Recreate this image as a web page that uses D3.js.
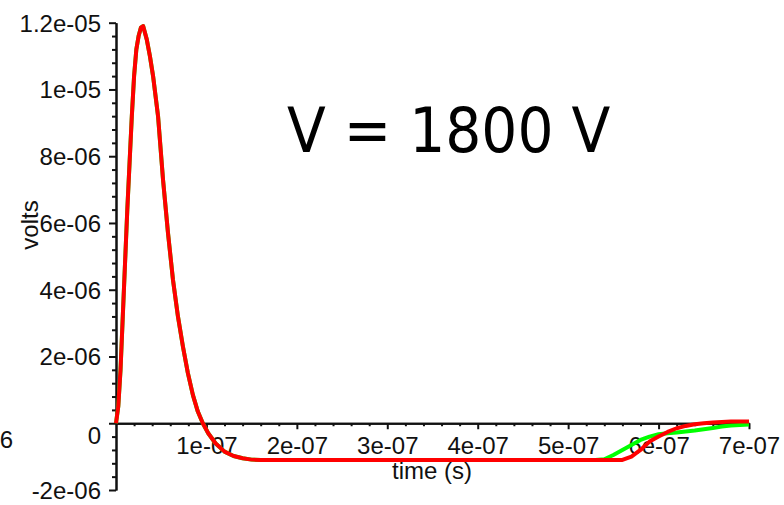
<!DOCTYPE html>
<html>
<head>
<meta charset="utf-8">
<script src="https://cdn.jsdelivr.net/npm/d3@7/dist/d3.min.js"></script>
<style>
  html, body { margin: 0; padding: 0; background: #fff; }
  svg { display: block; }
  .tick-label { font-family: "Liberation Sans", Arial, sans-serif; font-size: 24px; fill: #111; }
</style>
</head>
<body>
<svg id="chart" width="784" height="505"></svg>
<script>
// Sample times (seconds)
const timeSec = [
  0, 0.25e-8, 0.5e-8, 0.75e-8, 1.0e-8, 1.25e-8, 1.5e-8, 1.75e-8, 2.0e-8, 2.25e-8,
  2.5e-8, 2.75e-8, 3.0e-8, 3.4e-8, 3.75e-8, 4.1e-8, 4.65e-8, 5.2e-8, 5.75e-8, 6.3e-8,
  6.85e-8, 7.4e-8, 7.95e-8, 8.5e-8, 9.05e-8, 9.6e-8, 10.2e-8, 11e-8, 12e-8, 13e-8,
  14e-8, 15e-8, 16e-8, 20e-8, 30e-8, 40e-8, 50e-8, 53e-8, 54e-8, 55e-8,
  56e-8, 57e-8, 58e-8, 59e-8, 60e-8, 61e-8, 62e-8, 63e-8, 64e-8, 65e-8,
  66e-8, 67e-8, 68e-8, 69e-8, 70e-8
];

// Signal voltages (volts), red trace
const redVolts = [
  0, 0.5e-6, 1.6e-6, 3.2e-6, 4.8e-6, 6.4e-6, 7.8e-6, 9.2e-6, 10.4e-6, 11.2e-6,
  11.6e-6, 11.85e-6, 11.9e-6, 11.5e-6, 11.0e-6, 10.4e-6, 9.2e-6, 7.3e-6, 5.7e-6, 4.3e-6,
  3.2e-6, 2.3e-6, 1.5e-6, 0.85e-6, 0.35e-6, 0.0, -0.3e-6, -0.6e-6, -0.85e-6, -0.98e-6,
  -1.05e-6, -1.09e-6, -1.1e-6, -1.1e-6, -1.1e-6, -1.1e-6, -1.1e-6, -1.1e-6, -1.1e-6, -1.1e-6,
  -1.1e-6, -1.0e-6, -0.8e-6, -0.55e-6, -0.4e-6, -0.26e-6, -0.15e-6, -0.08e-6, -0.03e-6, 0.0,
  0.02e-6, 0.04e-6, 0.05e-6, 0.05e-6, 0.05e-6
];

// Signal voltages (volts), green trace
const greenVolts = [
  0, 0.5e-6, 1.6e-6, 3.2e-6, 4.8e-6, 6.4e-6, 7.8e-6, 9.2e-6, 10.4e-6, 11.2e-6,
  11.6e-6, 11.85e-6, 11.9e-6, 11.5e-6, 11.0e-6, 10.4e-6, 9.2e-6, 7.3e-6, 5.7e-6, 4.3e-6,
  3.2e-6, 2.3e-6, 1.5e-6, 0.85e-6, 0.35e-6, 0.0, -0.3e-6, -0.6e-6, -0.85e-6, -0.98e-6,
  -1.05e-6, -1.09e-6, -1.1e-6, -1.1e-6, -1.1e-6, -1.1e-6, -1.1e-6, -1.1e-6, -1.08e-6, -0.95e-6,
  -0.8e-6, -0.65e-6, -0.5e-6, -0.4e-6, -0.33e-6, -0.3e-6, -0.28e-6, -0.25e-6, -0.22e-6, -0.18e-6,
  -0.14e-6, -0.1e-6, -0.07e-6, -0.05e-6, -0.04e-6
];

// Axis ticks and labels
const xTickValues = [1e-7, 2e-7, 3e-7, 4e-7, 5e-7, 6e-7, 7e-7];
const xTickLabels = ["1e-07", "2e-07", "3e-07", "4e-07", "5e-07", "6e-07", "7e-07"];
const yTickValues = [-2e-6, 0, 2e-6, 4e-6, 6e-6, 8e-6, 1e-5, 1.2e-5];
const yTickLabels = ["-2e-06", "0", "2e-06", "4e-06", "6e-06", "8e-06", "1e-05", "1.2e-05"];

const titleText = "V = 1800 V";
const xTitle = "time (s)";
const yTitle = "volts";

const svg = d3.select("#chart");

const x = d3.scaleLinear().domain([0, 7e-7]).range([116, 749]);
const y = d3.scaleLinear().domain([-2e-6, 1.2e-5]).range([490, 22.7]);

const y0 = y(0);
const x0 = x(0);

// Minor ticks
const xMinor = d3.range(1, 35).map(i => i * 2e-8).filter(v => !xTickValues.some(t => Math.abs(t - v) < 1e-12));
const yMinor = d3.range(-5, 31).map(i => i * 4e-7).filter(v => !yTickValues.some(t => Math.abs(t - v) < 1e-12));

const axisStyle = g => {
  g.select(".domain").attr("stroke", "#111").attr("stroke-width", 2);
  g.selectAll(".tick line").attr("stroke", "#111").attr("stroke-width", 2);
};

// x axis along the zero line
svg.append("g")
  .attr("transform", `translate(0,${y0})`)
  .call(d3.axisBottom(x).tickValues(xMinor).tickSize(3).tickSizeOuter(0).tickFormat(""))
  .call(axisStyle);

const xAxisG = svg.append("g")
  .attr("transform", `translate(0,${y0})`)
  .call(d3.axisBottom(x).tickValues(xTickValues).tickSize(6).tickSizeOuter(0)
        .tickFormat((d, i) => xTickLabels[i]))
  .call(axisStyle);
xAxisG.selectAll(".tick text")
  .attr("class", "tick-label")
  .attr("y", 14).attr("dy", "0.71em")
  .attr("font-size", null).attr("font-family", null).attr("fill", null);

// y axis at time zero
svg.append("g")
  .attr("transform", `translate(${x0},0)`)
  .call(d3.axisLeft(y).tickValues(yMinor).tickSize(4).tickSizeOuter(0).tickFormat(""))
  .call(axisStyle);

const yAxisG = svg.append("g")
  .attr("transform", `translate(${x0},0)`)
  .call(d3.axisLeft(y).tickValues(yTickValues).tickSize(7).tickSizeOuter(0)
        .tickFormat((d, i) => yTickLabels[i]))
  .call(axisStyle);
yAxisG.selectAll(".tick text")
  .attr("class", "tick-label")
  .attr("x", -15)
  .attr("dy", d => d === 0 ? "0.86em" : "0.35em")
  .attr("font-size", null).attr("font-family", null).attr("fill", null);

// stray clipped label at the left edge
svg.append("text").attr("class", "tick-label")
  .attr("x", 13).attr("y", y0).attr("dy", "1.02em")
  .attr("text-anchor", "end").text("6");

// axis titles
svg.append("text").attr("class", "tick-label")
  .attr("x", 432).attr("y", 479)
  .attr("text-anchor", "middle").text(xTitle);

svg.append("text").attr("class", "tick-label")
  .attr("transform", "translate(38,225) rotate(-90)")
  .attr("text-anchor", "middle").text(yTitle);

// traces
const line = d3.line()
  .x((d, i) => x(timeSec[i]))
  .y(d => y(d));

svg.append("path")
  .attr("d", line(greenVolts))
  .attr("fill", "none").attr("stroke", "#00ff00").attr("stroke-width", 4)
  .attr("stroke-linejoin", "round");

svg.append("path")
  .attr("d", line(redVolts))
  .attr("fill", "none").attr("stroke", "#ff0000").attr("stroke-width", 4)
  .attr("stroke-linejoin", "round");

// annotation
svg.append("text")
  .attr("x", 287).attr("y", 152)
  .attr("font-family", "'DejaVu Sans Condensed', 'DejaVu Sans', sans-serif")
  .attr("font-stretch", "condensed")
  .attr("font-size", 63)
  .attr("fill", "#000")
  .text(titleText);
</script>
</body>
</html>
